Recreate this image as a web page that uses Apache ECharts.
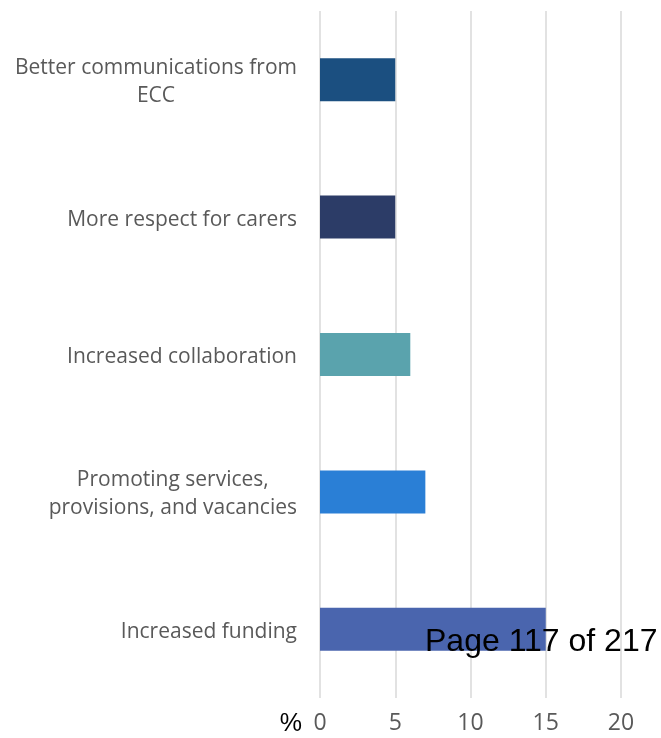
<!DOCTYPE html>
<html>
<head>
<meta charset="utf-8">
<script src="https://cdn.jsdelivr.net/npm/echarts@6/dist/echarts.min.js"></script>
<style>
  html, body { margin: 0; padding: 0; background: #fff; }
  #chart { width: 661px; height: 738px; }
</style>
</head>
<body>
<div id="chart"></div>
<script>
// Suggested improvements, share of responses (%)
const categories = [
  'Better communications from\nECC',
  'More respect for carers',
  'Increased collaboration',
  'Promoting services,\nprovisions, and vacancies',
  'Increased funding'
];
const values = [5, 5, 6, 7, 15];
const barColors = ['#1b4f80', '#2c3c67', '#5aa3ad', '#2a7fd6', '#4a65ae'];
const axisMin = 0;
const axisMax = 20;
const axisStep = 5;

const chart = echarts.init(document.getElementById('chart'), null, { renderer: 'canvas' });

chart.setOption({
  animation: false,
  backgroundColor: '#ffffff',
  grid: { left: 320, right: 40, top: 11, bottom: 40 },
  xAxis: {
    type: 'value',
    min: axisMin,
    max: axisMax,
    interval: axisStep,
    name: '%',
    nameLocation: 'start',
    nameGap: 18,
    nameTextStyle: {
      color: '#000000',
      fontFamily: 'Liberation Sans',
      fontSize: 25,
      verticalAlign: 'top',
      padding: [14, 0, 0, 0]
    },
    axisLine: { show: false },
    axisTick: { show: false },
    axisLabel: {
      color: '#595959',
      fontFamily: 'Open Sans',
      fontSize: 23,
      margin: 14
    },
    splitLine: { show: true, lineStyle: { color: '#d9d9d9', width: 1.5 } }
  },
  yAxis: {
    type: 'category',
    inverse: true,
    data: categories,
    axisLine: { show: false },
    axisTick: { show: false },
    axisLabel: {
      color: '#595959',
      fontFamily: 'Open Sans',
      fontSize: 21,
      lineHeight: 28,
      align: 'right',
      margin: 23,
      padding: [5, 0, 0, 0],
      // each line centred within the right-aligned label block
      formatter: (v) => v.split('\n').map((s) => '{c|' + s + '}').join('\n'),
      rich: {
        c: {
          align: 'center',
          color: '#595959',
          fontFamily: 'Open Sans',
          fontSize: 21,
          lineHeight: 28
        }
      }
    }
  },
  series: [{
    type: 'bar',
    barWidth: 43,
    data: values.map((v, i) => ({ value: v, itemStyle: { color: barColors[i] } }))
  }],
  graphic: [{
    type: 'text',
    left: 425,
    top: 626,
    z: 100,
    style: {
      text: 'Page 117 of 217',
      fill: '#000000',
      font: '32px "Liberation Sans", Arial, sans-serif'
    }
  }]
});
</script>
</body>
</html>
